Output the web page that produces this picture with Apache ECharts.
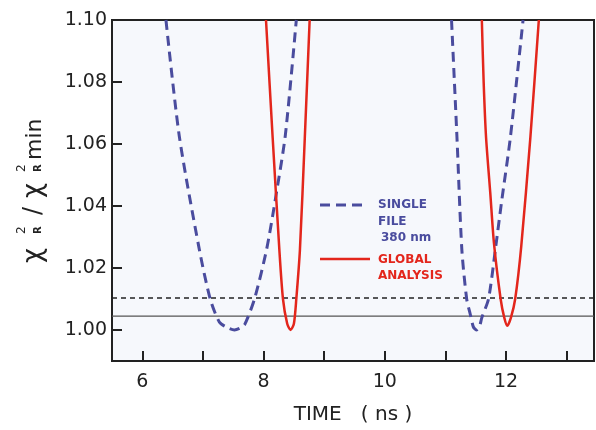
<!DOCTYPE html>
<html>
<head>
<meta charset="utf-8">
<script src="https://cdn.jsdelivr.net/npm/echarts@6/dist/echarts.min.js"></script>
<style>
html,body{margin:0;padding:0;background:#ffffff;}
#chart{width:596px;height:430px;}
</style>
</head>
<body>
<div id="chart"></div>
<script>
// ---- data ----
const xTicks = [6, 7, 8, 9, 10, 11, 12, 13];
const xTickLabels = [6, 8, 10, 12];
const yTickLabels = [1.00, 1.02, 1.04, 1.06, 1.08, 1.10];

// SINGLE FILE 380 nm (blue dashed), first minimum
const singleTime1  = [6.39, 6.61, 6.94, 7.12, 7.27, 7.40, 7.52, 7.62, 7.69, 7.85, 8.05, 8.21, 8.36, 8.54];
const singleRatio1 = [1.100, 1.0625, 1.026, 1.010, 1.0026, 1.0008, 1.000, 1.0007, 1.0018, 1.010, 1.026, 1.044, 1.063, 1.100];
// SINGLE FILE 380 nm (blue dashed), second minimum
const singleTime2  = [11.10, 11.19, 11.27, 11.35, 11.41, 11.46, 11.51, 11.56, 11.60, 11.71, 11.83, 11.93, 12.07, 12.28];
const singleRatio2 = [1.100, 1.062, 1.026, 1.010, 1.005, 1.001, 1.000, 1.001, 1.004, 1.010, 1.027, 1.042, 1.062, 1.100];
// GLOBAL ANALYSIS (red), first minimum
const globalTime1  = [8.04, 8.15, 8.26, 8.32, 8.39, 8.445, 8.50, 8.54, 8.60, 8.68, 8.76];
const globalRatio1 = [1.100, 1.062, 1.026, 1.010, 1.002, 1.000, 1.002, 1.010, 1.026, 1.062, 1.100];
// GLOBAL ANALYSIS (red), second minimum
const globalTime2  = [11.60, 11.63, 11.67, 11.74, 11.80, 11.91, 11.97, 12.02, 12.08, 12.15, 12.25, 12.40, 12.54];
const globalRatio2 = [1.100, 1.080, 1.062, 1.044, 1.028, 1.010, 1.004, 1.0014, 1.004, 1.010, 1.027, 1.062, 1.100];

// horizontal reference levels
const dashedLevel = 1.0103;
const solidLevel = 1.0045;

const xMin = 5.5, xMax = 13.45, yMin = 0.99, yMax = 1.10;

const BLUE = '#4a4c9e';
const RED = '#e3261c';
const INK = '#222222';
const FONT = '"DejaVu Sans", sans-serif';

const zip = (a, b) => a.map((v, i) => [v, b[i]]);

const chart = echarts.init(document.getElementById('chart'), null, {renderer: 'canvas'});

const blueStyle = {color: BLUE, width: 3, type: [10, 6]};
const redStyle = {color: RED, width: 2.5, type: 'solid'};

const curve = (name, data, style, z) => ({
  name, type: 'line', data, showSymbol: false, smooth: 0.25,
  lineStyle: style, itemStyle: {color: style.color}, clip: true, z
});

const option = {
  animation: false,
  backgroundColor: '#ffffff',
  grid: {left: 112, top: 20, right: 2, bottom: 63, show: true,
         backgroundColor: '#f6f8fc', borderColor: INK, borderWidth: 2},
  xAxis: {
    type: 'value', min: xMin, max: xMax,
    name: 'TIME   ( ns )', nameLocation: 'middle', nameGap: 44,
    nameTextStyle: {fontFamily: FONT, fontSize: 20, color: INK},
    axisLine: {show: true, onZero: false, lineStyle: {color: INK, width: 2}},
    axisTick: {show: true, inside: true, length: 10, customValues: xTicks, lineStyle: {color: INK, width: 2}},
    axisLabel: {customValues: xTickLabels, fontFamily: FONT, fontSize: 19, color: INK, margin: 12},
    splitLine: {show: false}
  },
  yAxis: {
    type: 'value', min: yMin, max: yMax,
    axisLine: {show: true, onZero: false, lineStyle: {color: INK, width: 2}},
    axisTick: {show: true, inside: true, length: 10, customValues: yTickLabels.slice(0, 5), lineStyle: {color: INK, width: 2}},
    axisLabel: {customValues: yTickLabels, fontFamily: FONT, fontSize: 19, color: INK, margin: 5,
                formatter: v => v.toFixed(2)},
    splitLine: {show: false}
  },
  series: [
    {name: 'dashed level', type: 'line', data: [[xMin, dashedLevel], [xMax, dashedLevel]],
     showSymbol: false, lineStyle: {color: '#222', width: 1.5, type: [5, 4]}, z: 1},
    {name: 'solid level', type: 'line', data: [[xMin, solidLevel], [xMax, solidLevel]],
     showSymbol: false, lineStyle: {color: '#555', width: 1.3}, z: 1},
    curve('SINGLE FILE 380 nm', zip(singleTime1, singleRatio1), blueStyle, 3),
    curve('SINGLE FILE 380 nm', zip(singleTime2, singleRatio2), blueStyle, 3),
    curve('GLOBAL ANALYSIS', zip(globalTime1, globalRatio1), redStyle, 4),
    curve('GLOBAL ANALYSIS', zip(globalTime2, globalRatio2), redStyle, 4)
  ],
  graphic: [
    // legend
    {type: 'line', shape: {x1: 320, y1: 205, x2: 368, y2: 205}, style: {stroke: BLUE, lineWidth: 3, lineDash: [10, 6]}},
    {type: 'text', x: 378, y: 205, style: {text: 'SINGLE', fill: BLUE, font: 'bold 12px ' + FONT, verticalAlign: 'middle'}},
    {type: 'text', x: 378, y: 222, style: {text: 'FILE', fill: BLUE, font: 'bold 12px ' + FONT, verticalAlign: 'middle'}},
    {type: 'text', x: 381, y: 238, style: {text: '380 nm', fill: BLUE, font: 'bold 12px ' + FONT, verticalAlign: 'middle'}},
    {type: 'line', shape: {x1: 320, y1: 259, x2: 370, y2: 259}, style: {stroke: RED, lineWidth: 2.5}},
    {type: 'text', x: 378, y: 260, style: {text: 'GLOBAL', fill: RED, font: 'bold 12px ' + FONT, verticalAlign: 'middle'}},
    {type: 'text', x: 378, y: 276, style: {text: 'ANALYSIS', fill: RED, font: 'bold 12px ' + FONT, verticalAlign: 'middle'}},
    // y-axis title  χ²_R / χ²_R min
    {type: 'group', x: 43, y: 263, rotation: Math.PI / 2, children: [
      {type: 'text', x: 0, y: -9, style: {text: 'χ', fill: INK, font: '26px ' + FONT, verticalAlign: 'middle'}},
      {type: 'text', x: 29, y: -21, style: {text: '2', fill: INK, font: '12px ' + FONT, verticalAlign: 'middle'}},
      {type: 'text', x: 29, y: -5, style: {text: 'R', fill: INK, font: 'bold 10px ' + FONT, verticalAlign: 'middle'}},
      {type: 'text', x: 48, y: -9, style: {text: '/', fill: INK, font: '24px ' + FONT, verticalAlign: 'middle'}},
      {type: 'text', x: 65, y: -9, style: {text: 'χ', fill: INK, font: '26px ' + FONT, verticalAlign: 'middle'}},
      {type: 'text', x: 91, y: -21, style: {text: '2', fill: INK, font: '12px ' + FONT, verticalAlign: 'middle'}},
      {type: 'text', x: 91, y: -5, style: {text: 'R', fill: INK, font: 'bold 10px ' + FONT, verticalAlign: 'middle'}},
      {type: 'text', x: 103, y: -8, style: {text: 'min', fill: INK, font: '22px ' + FONT, verticalAlign: 'middle'}}
    ]}
  ]
};
chart.setOption(option);
</script>
</body>
</html>
